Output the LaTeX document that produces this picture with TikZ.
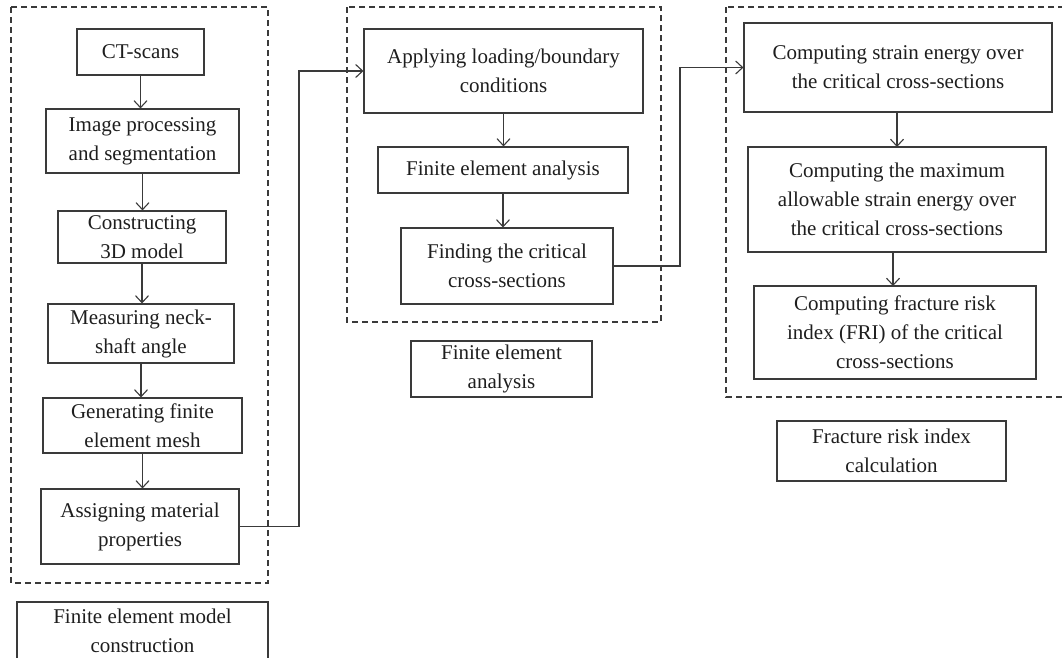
\documentclass[tikz,border=0pt]{standalone}
\usepackage{fontspec}
\setmainfont{Liberation Serif}
\usetikzlibrary{arrows.meta}
\definecolor{ln}{HTML}{3A3A3A}
\definecolor{tx}{HTML}{1E1E1E}
\tikzset{
  box/.style={draw=ln, line width=1.1pt, inner sep=0pt, align=center, text=tx,
    font=\fontsize{21}{29}\selectfont},
  grp/.style={draw=ln, line width=1.1pt, dash pattern=on 6pt off 4pt},
  conn/.style={draw=ln, line width=1.1pt, -{Straight Barb[length=7pt,width=13pt]}},
}
\begin{document}
\begin{tikzpicture}[x=1pt,y=-1pt]
\useasboundingbox (0,0) rectangle (1062,657);
\begin{scope}
\clip (0,0) rectangle (1062,657);
% group frames
\draw[grp] (11,7) rectangle (268,583);
\draw[grp] (347,7) rectangle (661,322);
\draw[grp] (726,7) rectangle (1075,397);

% left column
\node[box, minimum width=127pt, minimum height=46pt] (ct) at (140.5,52) {CT-scans};
\node[box, minimum width=193pt, minimum height=64pt] (img) at (142.5,141) {Image processing\\and segmentation};
\node[box, minimum width=168pt, minimum height=52pt] (con) at (142,237) {Constructing\\3D model};
\node[box, minimum width=186pt, minimum height=59pt] (mea) at (141,333.5) {Measuring neck-\\shaft angle};
\node[box, minimum width=199pt, minimum height=55pt] (gen) at (142.5,425.5) {Generating finite\\element mesh};
\node[box, minimum width=198pt, minimum height=75pt] (asg) at (140,526.5) {Assigning material\\properties};
\node[box, minimum width=251pt, minimum height=58pt] (lab1) at (142.5,631) {Finite element model\\construction};

% middle column
\node[box, minimum width=279pt, minimum height=84pt] (app) at (503.5,71) {Applying loading/boundary\\conditions};
\node[box, minimum width=250pt, minimum height=46pt] (fea) at (503,170) {Finite element analysis};
\node[box, minimum width=212pt, minimum height=76pt] (fin) at (507,266) {Finding the critical\\cross-sections};
\node[box, minimum width=181pt, minimum height=56pt] (lab2) at (501.5,369) {Finite element\\analysis};

% right column
\node[box, minimum width=308pt, minimum height=89pt] (cs) at (898,67.5) {Computing strain energy over\\the critical cross-sections};
\node[box, minimum width=298pt, minimum height=105pt] (cm) at (897,199.5) {Computing the maximum\\allowable strain energy over\\the critical cross-sections};
\node[box, minimum width=282pt, minimum height=93pt] (cf) at (895,332.5) {Computing fracture risk\\index (FRI) of the critical\\cross-sections};
\node[box, minimum width=229pt, minimum height=60pt] (lab3) at (891.5,451) {Fracture risk index\\calculation};

% vertical arrows
\draw[conn] (ct.south) -- (ct.south |- img.north);
\draw[conn] (img.south) -- (img.south |- con.north);
\draw[conn] (con.south) -- (con.south |- mea.north);
\draw[conn] (mea.south) -- (mea.south |- gen.north);
\draw[conn] (gen.south) -- (gen.south |- asg.north);
\draw[conn] (app.south) -- (app.south |- fea.north);
\draw[conn] (fea.south) -- (fea.south |- fin.north);
\draw[conn] (897,112) -- (897,147);
\draw[conn] (893,252) -- (893,286);

% cross-group connectors
\coordinate (j1) at (299,0);
\coordinate (j2) at (680,0);
\draw[conn] (asg.east) -- (asg.east -| j1) -- (app.west -| j1) -- (app.west);
\draw[conn] (fin.east) -- (fin.east -| j2) -- (cs.west -| j2) -- (cs.west);
\end{scope}
\end{tikzpicture}
\end{document}
